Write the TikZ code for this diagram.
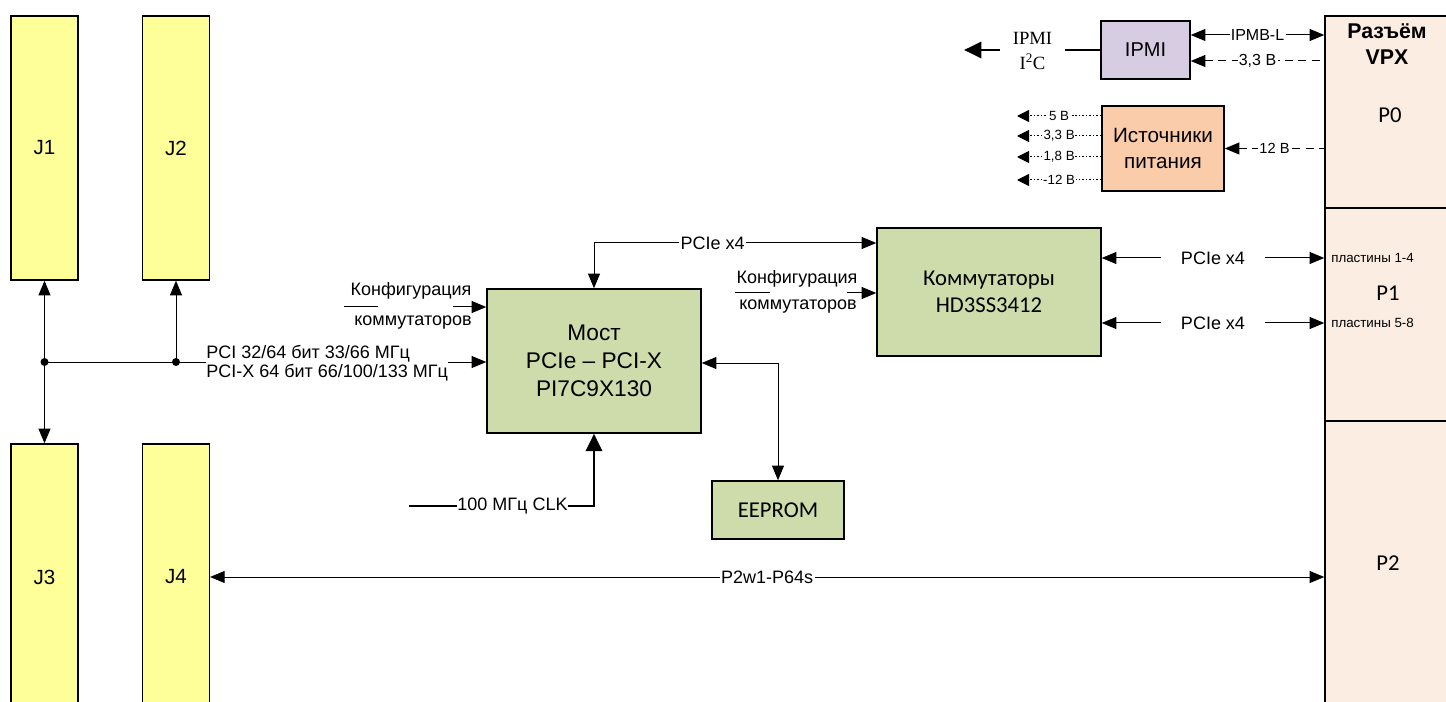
\documentclass[tikz,border=0pt]{standalone}
\usepackage{fontspec}
\setmainfont{Liberation Sans}
\newfontfamily\calfont{Carlito}
\newfontfamily\tnrfont{Liberation Serif}
\usetikzlibrary{arrows.meta}
\definecolor{jyel}{RGB}{255,255,153}
\definecolor{grn}{RGB}{205,220,170}
\definecolor{lav}{RGB}{215,205,226}
\definecolor{pwrc}{RGB}{250,204,170}
\definecolor{vpxc}{RGB}{252,237,226}
\begin{document}
\begin{tikzpicture}[x=0.75pt,y=-0.75pt,
  box/.style={draw=black, line width=1.1pt, inner sep=0pt},
  jbox/.style={box, fill=jyel, minimum width=50pt, minimum height=198pt, font=\fontsize{15.4}{18}\selectfont},
  gbox/.style={box, fill=grn, align=center},
  vpxbox/.style={box, fill=vpxc, minimum width=95.25pt},
  ptxt/.style={font=\calfont\fontsize{17}{20}\selectfont},
  line/.style={line width=0.75pt},
  conn/.style={line, -{Triangle[length=11pt,width=9pt]}},
  dconn/.style={line, {Triangle[length=11pt,width=9pt]}-{Triangle[length=11pt,width=9pt]}},
  thickline/.style={line width=2.2pt},
  thickconn/.style={thickline, -{Triangle[length=13pt,width=12pt]}},
  dashline/.style={line, dash pattern=on 6pt off 4pt, {Triangle[length=11pt,width=9pt]}-},
  dotline/.style={line, dash pattern=on 1.3pt off 1.3pt, -{Triangle[length=9pt,width=9pt]}},
  lbl/.style={fill=white, inner sep=1pt, font=\fontsize{13.5}{16}\selectfont},
  txt/.style={inner sep=1pt, font=\fontsize{13.5}{16}\selectfont},
  plbl/.style={lbl, inner sep=0.5pt, font=\fontsize{10}{12}\selectfont},
]
\useasboundingbox (0,0) rectangle (1446,702);
\clip (0,0) rectangle (1446,702);

% helper y-levels
\coordinate (y35) at (0,35);
\coordinate (y61) at (0,61);
\coordinate (y258) at (0,258);
\coordinate (y323) at (0,323);
\coordinate (y363) at (0,363);
\coordinate (y577) at (0,577);

% J connectors
\node[jbox] (J1) at (44.5,148) {J1};
\node[jbox] (J2) at (176,148) {J2};
\node[jbox, minimum height=199.5pt] (J3) at (44.5,577) {J3};
\node[jbox, minimum height=199.5pt] (J4) at (176,577) {J4};

% main blocks
\node[gbox, minimum width=160.5pt, minimum height=108pt, font=\fontsize{17}{21}\selectfont] (br) at (594,361) {Мост\\PCIe – PCI-X\\PI7C9X130};
\node[gbox, minimum width=168pt, minimum height=96pt, font=\calfont\fontsize{17}{20.25}\selectfont] (sw) at (989,292) {Коммутаторы\\HD3SS3412};
\node[gbox, minimum width=99pt, minimum height=43.5pt, font=\calfont\fontsize{17}{20}\selectfont] (ee) at (778,510) {EEPROM};
\node[box, fill=lav, minimum width=66.75pt, minimum height=43.5pt, font=\fontsize{15}{18}\selectfont] (ipmi) at (1145.5,50) {IPMI};
\node[box, fill=pwrc, minimum width=91.5pt, minimum height=63.75pt, align=center, font=\fontsize{15.5}{20}\selectfont] (pwr) at (1163,148.5) {Источники\\питания};

% VPX connector
\node[vpxbox, minimum height=144pt] (P0) at (1388.5,112) {};
\node[vpxbox, minimum height=159.75pt] (P1) at (1388.5,314.5) {};
\node[vpxbox, minimum height=216.75pt] (P2) at (1388.5,565.5) {};
\node[align=center, font=\bfseries\fontsize{16}{20}\selectfont] (vpxt) at (1387,44) {Разъём\\VPX};
\node[ptxt] (p0t) at (1390,115) {P0};
\node[ptxt] (p1t) at (1388,293) {P1};
\node[ptxt] (p2t) at (1388,563) {P2};
\node[anchor=west, inner sep=0pt, font=\fontsize{10}{12}\selectfont] (pl1) at (1331,258) {пластины 1-4};
\node[anchor=west, inner sep=0pt, font=\fontsize{10}{12}\selectfont] (pl2) at (1331,323) {пластины 5-8};

% PCI bus from J connectors
\coordinate (jA) at (44.5,362);
\coordinate (jB) at (176,362);
\draw[conn] (jA) -- (J1.south);
\draw[conn] (jA) -- (J3.north);
\draw[conn] (jB) -- (J2.south);
\node[txt, anchor=west, align=left, inner sep=0pt, font=\fontsize{13.5}{14.5}\selectfont] (pcil) at (206,363.5) {PCI 32/64 бит 33/66 МГц\\PCI-X 64 бит 66/100/133 МГц};
\draw[line] (jA) -- (jA -| pcil.west);
\draw[conn] (jA -| pcil.east) -- (jA -| br.west);
\fill (jA) circle (3pt);
\fill (jB) circle (3pt);

% configuration inputs
\node[txt] (cf1) at (411,291) {Конфигурация};
\node[txt] (cf2) at (413,323) {коммутаторов};
\coordinate (cfa1) at (344,307);
\coordinate (cfa2) at (378,307);
\coordinate (cfa3) at (453,307);
\draw[line] (cfa1) -- (cfa2);
\draw[conn] (cfa3) -- (cfa3 -| br.west);
\node[txt] (cf3) at (797,279) {Конфигурация};
\node[txt] (cf4) at (798,307) {коммутаторов};
\coordinate (cfb1) at (735,293);
\coordinate (cfb2) at (770,293);
\coordinate (cfb3) at (847,293);
\draw[line] (cfb1) -- (cfb2);
\draw[conn] (cfb3) -- (cfb3 -| sw.west);

% PCIe x4 bridge <-> switches
\coordinate (pcieTop) at (594,243);
\draw[dconn] (br.north) -- (pcieTop) -- node[lbl, pos=0.42] {PCIe x4} (pcieTop -| sw.west);

% switches <-> VPX P1
\draw[dconn] (sw.east |- y258) -- node[lbl, minimum width=78pt] {PCIe x4} (P1.west |- y258);
\draw[dconn] (sw.east |- y323) -- node[lbl, minimum width=78pt] {PCIe x4} (P1.west |- y323);

% EEPROM
\draw[dconn] (br.east |- y363) -| (ee.north);

% clock
\node[lbl, inner sep=0pt] (clk) at (512.5,506) {100 МГц CLK};
\coordinate (clk0) at (409,506);
\draw[thickline] (clk0) -- (clk.west);
\draw[thickconn] (clk.east) -| (br.south);

% P2 bus
\draw[dconn] (J4.east |- y577) -- node[lbl] {P2w1-P64s} (P2.west |- y577);

% IPMI
\draw[dconn] (ipmi.east |- y35) -- node[lbl, font=\fontsize{12}{14}\selectfont] {IPMB-L} (P0.west |- y35);
\draw[dashline] (ipmi.east |- y61) -- node[lbl, font=\fontsize{12}{14}\selectfont] {3,3 В} (P0.west |- y61);
\node[align=center, minimum width=48.75pt, inner sep=0pt, font=\tnrfont\fontsize{14}{18.75}\selectfont] (ipmil) at (1032.5,50.5) {IPMI\\I\textsuperscript{2}C};
\coordinate (ipmiout) at (964,50);
\draw[thickline] (ipmi.west) -- (ipmi.west -| ipmil.east);
\draw[thickconn] (ipmi.west -| ipmil.west) -- (ipmiout);

% power supplies
\draw[dashline] (pwr.east) -- node[lbl, font=\fontsize{11}{13}\selectfont] {12 В} (P0.west |- pwr.east);
\coordinate (po1) at (1017,116);
\coordinate (po2) at (1017,136);
\coordinate (po3) at (1017,157);
\coordinate (po4) at (1017,180);
\draw[dotline] (pwr.west |- po1) -- node[plbl] {5 В} (po1);
\draw[dotline] (pwr.west |- po2) -- node[plbl] {3,3 В} (po2);
\draw[dotline] (pwr.west |- po3) -- node[plbl] {1,8 В} (po3);
\draw[dotline] (pwr.west |- po4) -- node[plbl] {-12 В} (po4);
\end{tikzpicture}
\end{document}
